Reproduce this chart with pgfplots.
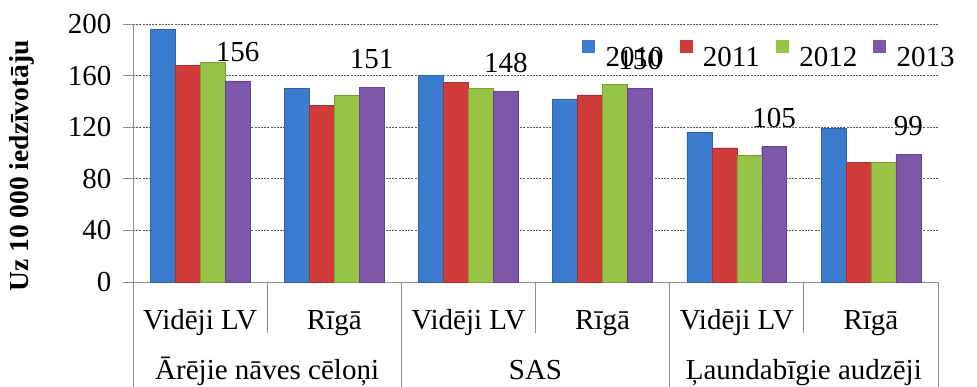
\documentclass[border=0pt]{standalone}
\usepackage{fontspec}
\setmainfont{Liberation Serif}
\usepackage{pgfplots}
\pgfplotsset{compat=1.18}

% bar colours
\definecolor{c2010}{HTML}{3B7CCF}
\definecolor{c2011}{HTML}{CF3C3A}
\definecolor{c2012}{HTML}{97C446}
\definecolor{c2013}{HTML}{7D57AA}
\definecolor{axgray}{HTML}{8C8C8C}

\newcommand{\chartfont}{\rmfamily\fontsize{29}{34}\selectfont}

\pgfplotsset{
  yearbar/.style={
    fill=#1, draw=#1!80!black, line width=0.4pt,
    legend image code/.code={\fill[#1] (0pt,5pt) rectangle (12pt,17pt);},
  },
}

\begin{document}
\begin{tikzpicture}
\begin{axis}[
  scale only axis, width=805pt, height=258pt,
  xmin=-0.5, xmax=5.5, ymin=0, ymax=200,
  ytick={0,40,...,200},
  xtick={0,...,5},
  xticklabels={Vidēji LV, Rīgā, Vidēji LV, Rīgā, Vidēji LV, Rīgā},
  axis x line*=bottom, axis y line*=left,
  axis line style={axgray, line width=0.8pt},
  tick align=outside, major tick length=10pt,
  y tick style={axgray, line width=0.8pt},
  x tick style={draw=none},
  ymajorgrids,
  major grid style={black!65, line width=0.7pt, dash pattern=on 2pt off 1.2pt},
  tick label style={font=\chartfont},
  x tick label style={anchor=base, yshift=-38pt},
  y tick label style={xshift=-8pt},
  /pgf/number format/assume math mode=true,
  ylabel={Uz 10 000 iedzīvotāju},
  every axis y label/.style={at={([xshift=-111pt]rel axis cs:0,0.45)}, rotate=90, anchor=center, font=\rmfamily\fontsize{27.5}{32}\selectfont\bfseries},
  ybar, bar width=0.186,
  clip=false,
  legend columns=4,
  legend style={at={(0.558,0.88)}, anchor=west, draw=none, fill=none,
    inner sep=0pt, outer sep=0pt, font=\chartfont,
    nodes={inner sep=2pt},
    /tikz/every odd column/.append style={column sep=9pt},
    /tikz/every even column/.append style={column sep=14pt}},
]
\addplot[yearbar=c2010, bar shift=-0.279]
  coordinates {(0,196) (1,150) (2,160) (3,142) (4,116) (5,119)};
\addplot[yearbar=c2011, bar shift=-0.093]
  coordinates {(0,168) (1,137) (2,155) (3,145) (4,104) (5,93)};
\addplot[yearbar=c2012, bar shift=0.093]
  coordinates {(0,170) (1,145) (2,150) (3,153) (4,98) (5,93)};
\addplot[yearbar=c2013, bar shift=0.279,
  nodes near coords={\pgfmathprintnumber[assume math mode=true]{\pgfplotspointmeta}},
  every node near coord/.append style={anchor=base, yshift=19pt, font=\chartfont, text=black}]
  coordinates {(0,156) (1,151) (2,148) (3,150) (4,105) (5,99)};
\legend{2010,2011,2012,2013}

% category separators below the axis
\pgfplotsinvokeforeach{-0.5,1.5,3.5,5.5}{
  \draw[axgray, line width=0.8pt] (axis cs:#1,0) -- ++(0pt,-105pt);
}
\pgfplotsinvokeforeach{0.5,2.5,4.5}{
  \draw[axgray, line width=0.8pt] (axis cs:#1,0) -- ++(0pt,-51pt);
}

% group names
\node[anchor=base, font=\chartfont] at ([yshift=-98pt]axis cs:0.5,0) {Ārējie nāves cēloņi};
\node[anchor=base, font=\chartfont] at ([yshift=-98pt]axis cs:2.5,0) {SAS};
\node[anchor=base, font=\chartfont] at ([yshift=-98pt]axis cs:4.5,0) {Ļaundabīgie audzēji};

\coordinate (axsw) at (rel axis cs:0,0);
\coordinate (axne) at (rel axis cs:1,1);
\end{axis}
\pgfresetboundingbox
\path[use as bounding box] ([shift={(-133pt,-105pt)}]axsw) rectangle ([shift={(39pt,24pt)}]axne);
\end{tikzpicture}
\end{document}
